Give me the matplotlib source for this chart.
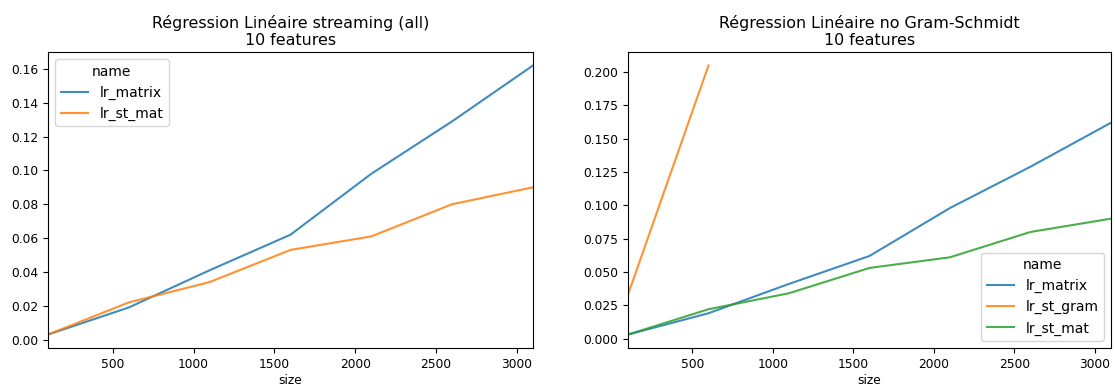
import numpy as np
from matplotlib import pyplot as plt

# Timings per training-set size (seconds)
size = [100, 600, 1100, 1600, 2100, 2600, 3100]
lr_matrix = [0.003, 0.019, 0.041, 0.062, 0.098, 0.129, 0.162]
lr_st_mat = [0.003, 0.022, 0.034, 0.053, 0.061, 0.080, 0.090]
size_gram = [100, 600]
lr_st_gram = [0.033, 0.205]

plt.rcParams['font.size'] = 8.8
plt.rcParams['axes.titlesize'] = 11.4
plt.rcParams['legend.fontsize'] = 10
plt.rcParams['legend.title_fontsize'] = 10

fig = plt.figure(figsize=(11.15, 3.91), dpi=100)
ax1 = fig.add_axes([48 / 1115, 1 - 348 / 391, 485 / 1115, 296 / 391])
ax2 = fig.add_axes([628 / 1115, 1 - 348 / 391, 483 / 1115, 296 / 391])

# Left: streaming (all)
ax1.plot(size, lr_matrix, color='#1f77b4', label='lr_matrix', alpha=0.85)
ax1.plot(size, lr_st_mat, color='#ff7f0e', label='lr_st_mat', alpha=0.85)
ax1.set_xlim(100, 3100)
ax1.set_yticks(np.arange(0, 0.161, 0.02))
ax1.set_xlabel('size')
ax1.set_title('Régression Linéaire streaming (all)\n10 features', pad=5)
ax1.legend(title='name', loc='upper left')

# Right: no Gram-Schmidt
ax2.plot(size, lr_matrix, color='#1f77b4', label='lr_matrix', alpha=0.85)
ax2.plot(size_gram, lr_st_gram, color='#ff7f0e', label='lr_st_gram', alpha=0.85)
ax2.plot(size, lr_st_mat, color='#2ca02c', label='lr_st_mat', alpha=0.85)
ax2.set_xlim(100, 3100)
ax2.set_yticks(np.arange(0, 0.201, 0.025))
ax2.set_xlabel('size')
ax2.set_title('Régression Linéaire no Gram-Schmidt\n10 features', pad=5)
ax2.legend(title='name', loc='lower right')

for ax in (ax1, ax2):
    ax.set_xticks([500, 1000, 1500, 2000, 2500, 3000])
    ax.xaxis.labelpad = 2

fig.savefig('out.png')
